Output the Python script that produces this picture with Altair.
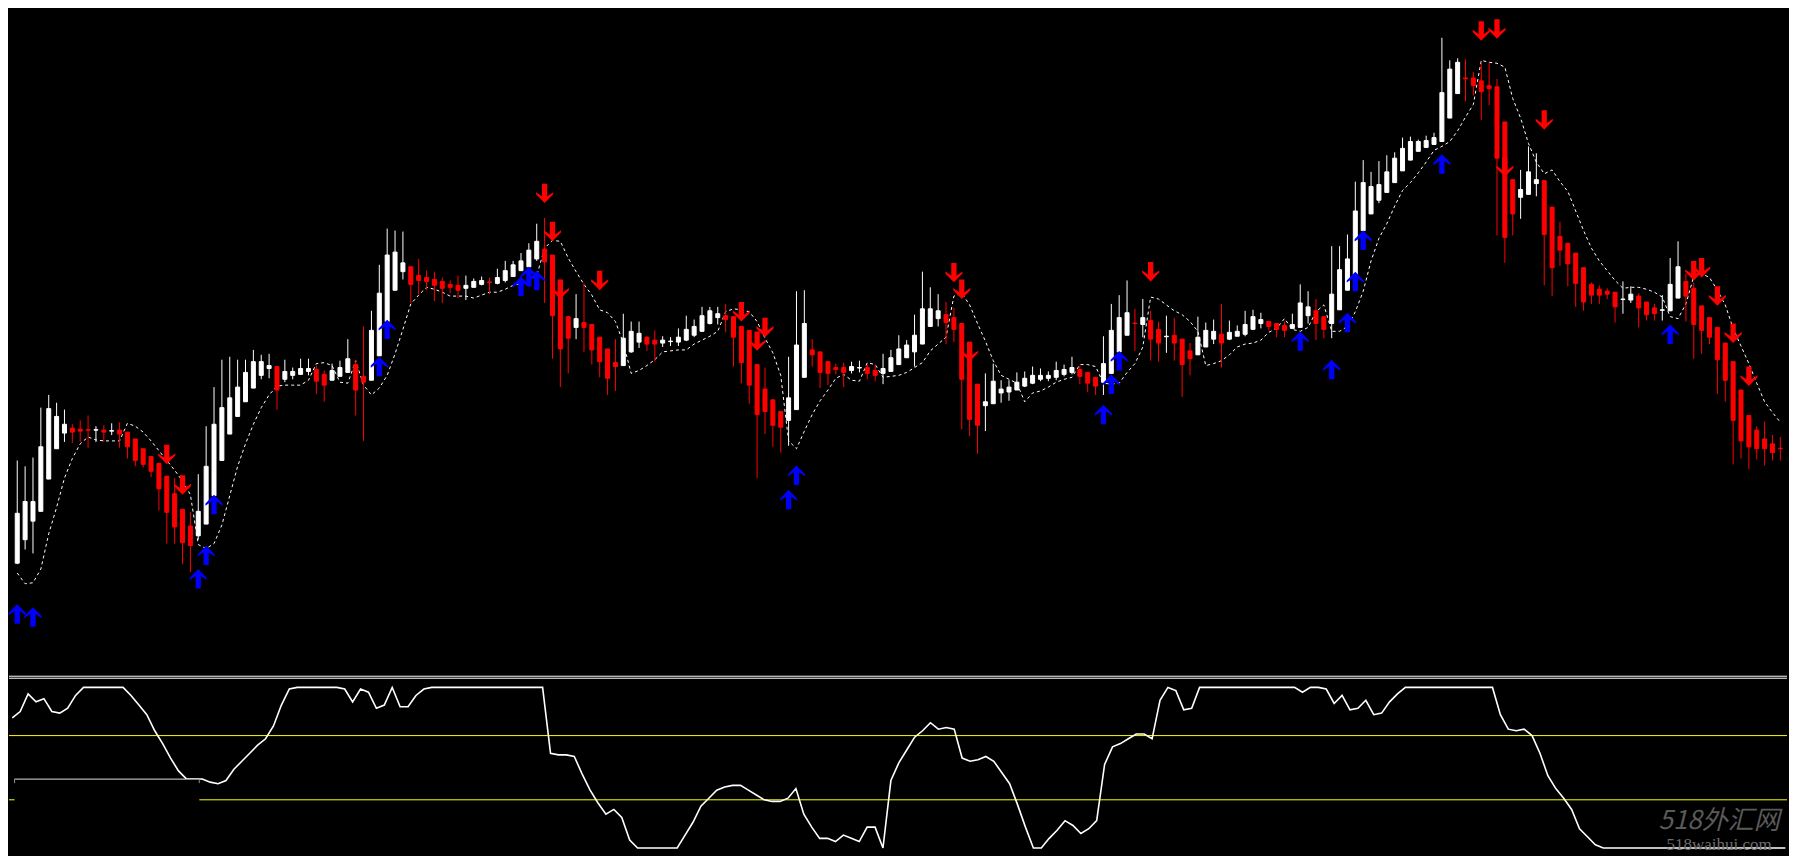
import altair as alt
import pandas as pd

# ---------------- price data (one candle per bar index) ----------------
opens = [
    133, 157, 176, 186, 219, 250, 266, 271, 270, 269.5,
    269, 269, 268, 269, 267, 260, 250, 242, 235, 222,
    204, 188, 171, 161, 173, 202, 238, 265, 283, 298,
    312, 325, 332, 334, 321, 325, 326, 329, 331, 326,
    320, 324, 328, 336, 324, 320, 345, 380, 412, 431,
    436, 427, 425, 423, 421, 418, 417, 414, 415, 418,
    420.5, 419, 422, 426, 432, 436, 444, 454, 448, 422,
    385, 374, 379, 377, 364, 352, 338, 335, 349, 359,
    364, 361, 358, 359.5, 359, 361, 366, 370, 378, 384,
    386, 385, 375, 371, 336, 311, 300, 288, 279, 290,
    323, 351, 349, 339, 333, 333, 330, 332.5, 333, 330,
    327, 329, 336, 343, 349, 357, 375, 383, 387, 384,
    378, 359, 316, 294, 296, 307, 308, 310, 314, 317,
    321, 322, 323, 326, 328, 331, 328, 323, 318, 327,
    349, 366, 378.5, 377, 381, 372, 364.5, 366, 362, 350,
    346, 354, 362, 367, 362, 365, 367, 372, 378, 380,
    378, 376, 373, 374, 386, 391, 385, 378, 392, 412,
    427, 473, 490, 504, 512, 522, 534, 545, 554, 558,
    561, 564, 588, 613, 629, 629, 626, 621, 620, 584,
    525, 507, 510, 521, 524, 497, 467, 460, 450, 435,
    418, 413, 411, 410, 402.5, 402, 406, 400, 394, 391.5,
    391, 404, 421, 414, 396, 384, 374, 358, 339, 310,
    284, 269, 260, 255, 250.5,
]
highs = [
    238, 232, 241, 292, 305, 297, 290, 275, 279, 284,
    273, 274, 276, 277, 267, 260, 250, 242, 235, 222,
    220, 188, 185, 224, 273, 313, 341, 344, 341, 341,
    351, 346, 347, 334, 341, 333, 342, 342, 335, 330,
    337, 340, 362, 341, 375, 391, 438, 475, 473, 472,
    436, 444, 432, 431, 425, 422, 427, 427, 424, 426,
    425, 434, 442, 442, 450, 460, 480, 486, 448, 422,
    385, 408, 419, 377, 364, 352, 362, 388, 380, 380,
    365, 371, 365, 364, 373, 386, 382, 395, 395, 395,
    398, 385, 375, 371, 336, 333, 300, 288, 344, 411,
    412, 362, 349, 339, 337, 338, 339, 340, 336, 336,
    347, 351, 366, 361, 387, 431, 415, 408, 400, 394,
    378, 359, 316, 327, 337, 320, 320, 328, 329, 334,
    332, 329, 339, 336, 344, 335, 328, 323, 365, 398,
    407, 422, 393, 403, 391, 380, 386, 384, 362, 358,
    385, 379, 382, 398, 381, 376, 391, 392, 389, 380,
    378, 380, 388, 418, 411, 403, 385, 457, 457, 469,
    523, 545, 533, 544, 550, 553, 568, 569, 566, 570,
    573, 670, 647, 649, 648, 635, 645, 645, 628, 584,
    525, 535, 559, 552, 524, 497, 482, 460, 450, 435,
    420, 417, 414, 410, 421, 416, 409, 400, 398, 407,
    445, 462, 429, 420, 396, 384, 374, 358, 339, 310,
    284, 273, 278, 264, 262,
]
lows = [
    132, 147, 143, 186, 219, 250, 257, 256, 257, 251,
    257, 257, 264, 251, 240, 232, 231, 221, 187, 153,
    153, 132, 124, 157, 173, 202, 238, 265, 283, 298,
    312, 321, 322, 290, 318, 321, 326, 325, 306, 298,
    320, 324, 328, 284, 258, 320, 345, 380, 412, 423,
    399, 408, 412, 401, 399, 409, 404, 402, 415, 417,
    408, 418, 420, 426, 432, 436, 442, 399, 342, 313,
    327, 362, 349, 336, 323, 305, 309, 335, 348, 353,
    350, 339, 354, 355, 355, 360, 364, 370, 377, 377,
    369, 334, 317, 296, 220, 265, 252, 246, 253, 290,
    323, 334, 312, 315, 326, 313, 327, 328, 321, 319,
    316, 329, 336, 343, 334, 357, 375, 375, 357, 359,
    270, 263, 245, 268, 296, 297, 299, 310, 313, 316,
    319, 319, 320, 324, 326, 316, 308, 305, 305, 327,
    349, 366, 350, 364, 340, 339, 348, 340, 303, 325,
    346, 354, 357, 333, 361, 365, 365, 372, 373, 371,
    364, 364, 373, 374, 378, 361, 363, 363, 392, 412,
    427, 473, 490, 501, 512, 522, 534, 545, 554, 558,
    561, 564, 588, 613, 605, 611, 586, 601, 468, 440,
    468, 485, 510, 508, 417, 406, 437, 416, 395, 391,
    398, 398, 403, 379, 388, 399, 374, 381, 381, 381,
    391, 404, 380, 342, 347, 357, 306, 298, 234, 240,
    229, 239, 233, 238, 238,
]
closes = [
    184, 196, 196, 252, 291, 283, 275, 267, 268, 269,
    269.5, 267, 268.5, 265, 252, 238, 234, 227, 209, 185,
    170, 154, 151, 186, 232, 275, 292, 302, 313, 328,
    339, 339, 335, 310, 329, 329, 332, 332, 319, 315,
    330, 333, 342, 310, 318, 371, 409, 448, 451, 440,
    418, 422, 421, 417, 414, 415, 412, 417, 421, 422,
    420, 425, 432, 438, 442, 453, 462, 441, 386, 352,
    363, 383, 374, 351, 339, 322, 334, 363, 370, 368,
    357, 357, 361, 360, 364, 372, 375, 386, 391, 388,
    382, 364, 338, 315, 285, 288, 274, 272, 302, 356,
    378, 346, 328, 327, 331, 328, 334, 333, 327, 325,
    332, 343, 352, 356, 366, 393, 393, 391, 379, 372,
    321, 280, 274, 298, 319, 311, 313, 318, 322, 325,
    325, 325, 330, 331, 333, 324, 317, 314, 337, 371,
    384, 389, 378, 384, 362, 358, 365, 358, 336, 342,
    364, 371, 370, 358, 369, 370, 377, 385, 382, 375,
    372, 371, 377, 399, 395, 378, 372, 408, 433, 444,
    493, 522, 518, 520, 533, 547, 557, 564, 564, 565,
    568, 614, 638, 645, 628, 621, 615, 618, 547, 466,
    490, 515, 533, 525, 469, 435, 453, 439, 419, 400,
    407, 407, 408, 395, 403, 408, 394, 387, 388, 392,
    418, 436, 406, 377, 371, 364, 341, 320, 279, 258,
    252, 250, 250, 246, 250,
]
# dotted trailing line
trail = [
    123, 112, 113, 127, 163, 190, 220, 240, 255, 262,
    259, 258, 258, 258, 276, 273, 267, 258, 248, 238,
    228, 217, 203, 152, 148, 153, 172, 202, 232, 255,
    275, 292, 305, 314, 315, 315, 315, 320, 337, 338,
    335, 318, 317, 340, 315, 305, 312, 325, 347, 372,
    398, 407, 415, 413, 410, 406, 406, 406, 404, 407,
    410, 410, 413, 417, 419, 422, 427, 455, 463, 462,
    445, 431, 418, 407, 392, 389, 380, 358, 327, 330,
    335, 341, 349, 350, 351, 351, 357, 361, 365, 370,
    390, 393, 392, 390, 380, 363, 348, 325, 258, 250,
    268, 285, 299, 310, 322, 326, 320, 319, 338, 336,
    323, 324, 325, 328, 333, 338, 350, 357, 364, 406,
    409, 397, 378, 360, 340, 325, 321, 317, 298, 307,
    309, 313, 318, 321, 323, 336, 336, 334, 317, 316,
    317, 328, 337, 354, 405, 403, 397, 391, 387, 380,
    370, 335, 337, 340, 346, 354, 357, 358, 361, 369,
    373, 383, 372, 370, 374, 390, 397, 370, 370, 375,
    390, 411, 442, 465, 480, 498, 514, 522, 532, 543,
    555, 559, 564, 575, 589, 602, 647, 645, 644, 640,
    608, 588, 562, 543, 531, 535, 523, 513, 493, 473,
    455, 442, 432, 422, 414, 415, 415, 413, 410, 405,
    385, 383, 398, 426, 429, 425, 412, 397, 373, 355,
    337, 317, 298, 287, 277,
]
# signal arrows
up_idx = [0, 2, 23, 24, 25, 46, 47, 64, 65, 66, 98, 99, 138, 139, 140,
          163, 167, 169, 170, 171, 181, 210]
up_price = [81, 78, 117, 141, 193, 334, 372, 416, 426, 422, 198, 223, 285,
            316, 340, 360, 331, 379, 421, 463, 541, 367]
dn_idx = [19, 21, 67, 68, 69, 74, 92, 94, 95, 119, 120, 121, 144, 186, 188,
          189, 194, 213, 214, 216, 218, 220]
dn_price = [244, 213, 511, 472, 413, 422, 390, 360, 374, 430, 413, 349, 431,
            677, 679, 538, 586, 432, 435, 406, 368, 324]

# ---------------- oscillator (0..100) ----------------
osc = [
    81, 85, 96, 91, 93, 85, 84, 87, 95, 100,
    100, 100, 100, 100, 100, 95, 89, 83, 73, 65,
    56, 48, 43, 43, 43, 41, 40, 42, 49, 54,
    59, 64, 68, 76, 89, 99, 100, 100, 100, 100,
    100, 100, 99, 91, 99, 97, 87, 89, 100, 88,
    88, 95, 99, 100, 100, 100, 100, 100, 100, 100,
    100, 100, 100, 100, 100, 100, 100, 100, 59, 58,
    58, 57, 46, 36, 28, 21, 24, 19, 5, 0,
    0, 0, 0, 0, 0, 8, 16, 26, 31, 36,
    38, 39, 39, 36, 33, 30, 29, 29, 31, 37,
    21, 13, 6, 6, 4, 8, 6, 4, 13, 13,
    0, 42, 53, 61, 69, 73, 78, 74, 75, 74,
    56, 54, 55, 57, 54, 47, 40, 27, 13, 0,
    0, 6, 11, 17, 14, 9, 12, 17, 52, 63,
    65, 68, 71, 71, 68, 92, 100, 98, 86, 87,
    100, 100, 100, 100, 100, 100, 100, 100, 100, 100,
    100, 100, 100, 97, 100, 100, 99, 90, 95, 86,
    87, 92, 83, 84, 91, 96, 100, 100, 100, 100,
    100, 100, 100, 100, 100, 100, 100, 100, 83, 74,
    73, 74, 70, 59, 45, 37, 31, 24, 12, 7,
    2, 0, 0, 0, 0, 0, 0, 0, 0, 0,
    0, 0, 0, 0, 0, 0, 0, 0, 0, 0,
    0, 0, 0, 0, 0,
]
levels = [30, 70]

# ---------------- tables ----------------
n = len(closes)
cdf = pd.DataFrame({
    "i": list(range(n)), "o": opens, "h": highs, "l": lows, "c": closes,
})
cdf["dir"] = ["up" if c >= o else "down" for o, c in zip(opens, closes)]
tdf = pd.DataFrame({"i": list(range(len(trail))), "v": trail})
udf = pd.DataFrame({"i": up_idx, "p": up_price})
ddf = pd.DataFrame({"i": dn_idx, "p": dn_price})
odf = pd.DataFrame({"i": list(range(len(osc))), "v": osc})
ldf = pd.DataFrame({"lv": levels})
one = pd.DataFrame({"k": [0]})

W = 1780
H_TOP = 667
H_BOT = 181

xs = alt.Scale(domain=[-0.4125, 224.21], nice=False, zero=False)
ys = alt.Scale(domain=[19, 700], nice=False, zero=False)
os_ = alt.Scale(domain=[-4.7, 107.9], nice=False, zero=False)
cs = alt.Scale(domain=["up", "down"], range=["#FFFFFF", "#FF0000"])

UP = ("M0,-1L0.88,-0.1L0.88,0.12L0.27,-0.3L0.27,1L-0.27,1L-0.27,-0.3"
      "L-0.88,0.12L-0.88,-0.1Z")
DN = ("M0,1L0.88,0.1L0.88,-0.12L0.27,0.3L0.27,-1L-0.27,-1L-0.27,0.3"
      "L-0.88,-0.12L-0.88,0.1Z")

base = alt.Chart(cdf)
wicks = base.mark_rule(strokeWidth=1).encode(
    x=alt.X("i:Q", scale=xs, axis=None),
    y=alt.Y("l:Q", scale=ys, axis=None),
    y2="h:Q",
    color=alt.Color("dir:N", scale=cs, legend=None),
)
bodies = base.mark_bar(size=4, strokeWidth=1).encode(
    x=alt.X("i:Q", scale=xs, axis=None),
    y=alt.Y("o:Q", scale=ys, axis=None),
    y2="c:Q",
    color=alt.Color("dir:N", scale=cs, legend=None),
    stroke=alt.Stroke("dir:N", scale=cs, legend=None),
)
trail_line = alt.Chart(tdf).mark_line(
    color="#FFFFFF", strokeWidth=1, strokeDash=[3, 3]
).encode(
    x=alt.X("i:Q", scale=xs, axis=None),
    y=alt.Y("v:Q", scale=ys, axis=None),
)
ups = alt.Chart(udf).mark_point(
    shape=UP, filled=True, size=380, color="#0000FF", opacity=1, strokeWidth=0
).encode(
    x=alt.X("i:Q", scale=xs, axis=None),
    y=alt.Y("p:Q", scale=ys, axis=None),
)
dns = alt.Chart(ddf).mark_point(
    shape=DN, filled=True, size=380, color="#FF0000", opacity=1, strokeWidth=0
).encode(
    x=alt.X("i:Q", scale=xs, axis=None),
    y=alt.Y("p:Q", scale=ys, axis=None),
)
top = alt.layer(trail_line, wicks, bodies, ups, dns).properties(
    width=W, height=H_TOP
)

# ---------------- lower panel ----------------
osc_line = alt.Chart(odf).mark_line(color="#FFFFFF", strokeWidth=1.6).encode(
    x=alt.X("i:Q", scale=xs, axis=None),
    y=alt.Y("v:Q", scale=os_, axis=None),
)
lvl = alt.Chart(ldf).mark_rule(color="#FFFF00", strokeWidth=1).encode(
    y=alt.Y("lv:Q", scale=os_, axis=None)
)
sep1 = alt.Chart(one).mark_rule(color="#FFFFFF", strokeWidth=1).encode(
    x=alt.value(0), x2=alt.value(W), y=alt.value(1.5)
)
sep2 = alt.Chart(one).mark_rule(color="#FFFFFF", strokeWidth=1).encode(
    x=alt.value(0), x2=alt.value(W), y=alt.value(3.5)
)
box = alt.Chart(one).mark_rect(color="#000000").encode(
    x=alt.value(5.5), x2=alt.value(190.5), y=alt.value(104.5), y2=alt.value(150)
)
box_top = alt.Chart(one).mark_rule(color="#E0E0E0", strokeWidth=1).encode(
    x=alt.value(5.5), x2=alt.value(190.5), y=alt.value(104.5)
)
box_l = alt.Chart(one).mark_rule(color="#909090", strokeWidth=1).encode(
    x=alt.value(5.5), y=alt.value(104.5), y2=alt.value(108.5)
)
box_r = alt.Chart(one).mark_rule(color="#909090", strokeWidth=1).encode(
    x=alt.value(190.5), y=alt.value(104.5), y2=alt.value(108.5)
)
wm1 = alt.Chart(one).mark_text(
    text="518外汇网", font="Noto Sans CJK SC", fontSize=26, fontStyle="italic",
    color="#5a5a5a", align="center", baseline="middle",
).encode(x=alt.value(1712), y=alt.value(146))
wm2 = alt.Chart(one).mark_text(
    text="518waihui.com", font="Liberation Serif", fontSize=17,
    color="#6e6e6e", align="center", baseline="middle",
).encode(x=alt.value(1712), y=alt.value(170))

bottom = alt.layer(
    lvl, osc_line, sep1, sep2, box, box_top, box_l, box_r, wm1, wm2
).properties(width=W, height=H_BOT)

chart = alt.vconcat(top, bottom, spacing=0).properties(
    padding=0, background="#000000"
).configure_view(strokeWidth=0)

chart.save("out.html", embed_options={"renderer": "svg", "actions": False})
